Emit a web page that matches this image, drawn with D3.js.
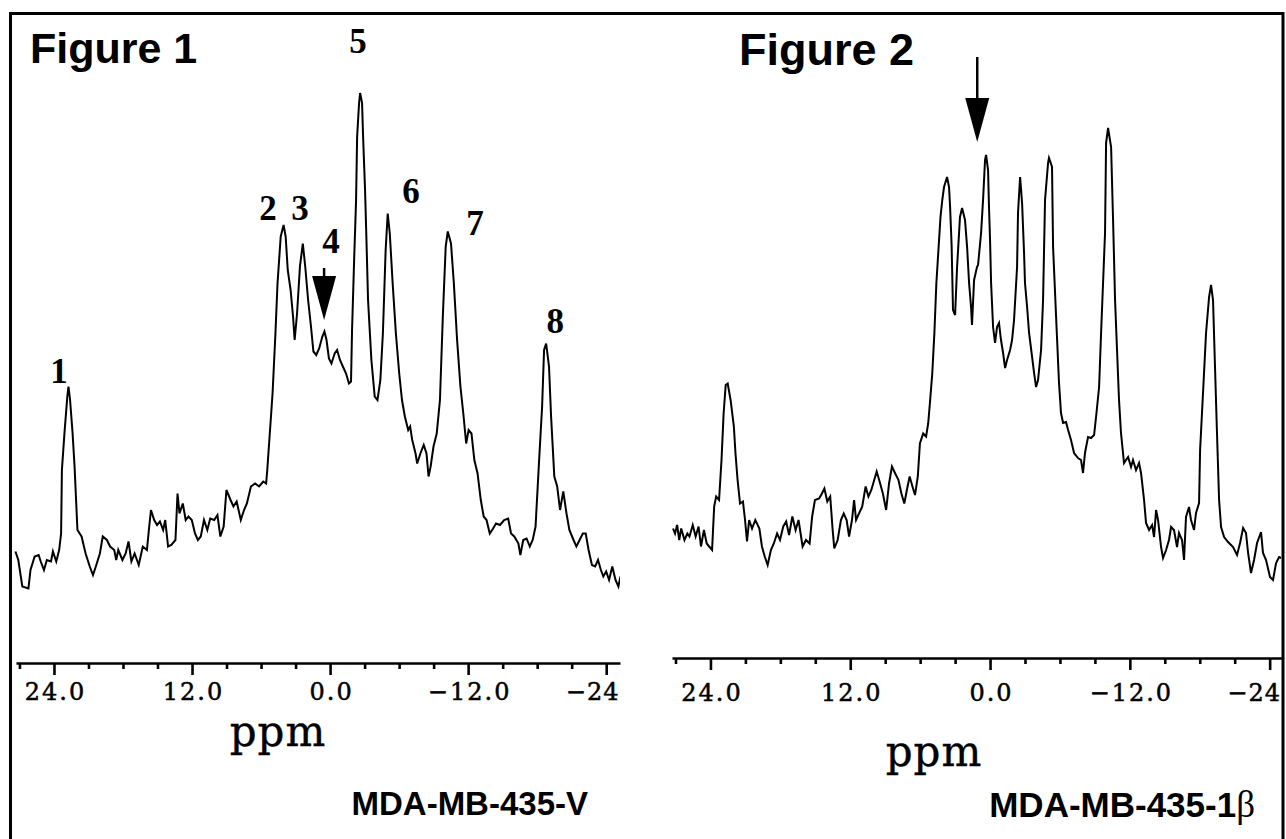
<!DOCTYPE html>
<html>
<head>
<meta charset="utf-8">
<script src="https://cdn.jsdelivr.net/npm/d3@7"></script>
<style>
  body { margin: 0; background: #fff; }
</style>
</head>
<body>
<div id="chart"></div>
<script>
// [ppm, intensity (a.u.)]
const spectrumV = [
  [27.35,13.7],[27.10,12.0],[26.75,6.7],[26.22,6.3],[26.04,10.0],[25.68,12.7],[25.33,13.0],[25.15,11.7],[24.87,10.0],[24.62,12.0],
  [24.26,11.7],[24.09,13.7],[23.80,11.7],[23.55,14.0],[23.38,17.3],[23.31,30.0],[23.09,37.3],[22.84,44.7],[22.74,46.7],[22.60,44.0],
  [22.38,37.3],[22.21,30.7],[21.96,18.0],[21.60,16.7],[21.25,13.3],[20.89,10.7],[20.61,9.0],[20.36,10.7],[20.01,13.3],[19.76,16.7],
  [19.40,16.0],[19.12,14.7],[18.76,14.0],[18.59,12.0],[18.41,14.0],[18.05,12.0],[17.77,13.3],[17.52,15.7],[17.27,11.7],[16.99,13.3],
  [16.63,11.0],[16.28,14.7],[15.92,14.0],[15.75,18.0],[15.57,22.0],[15.29,20.0],[15.04,19.0],[14.79,19.7],[14.51,18.0],[14.33,20.0],
  [14.08,14.7],[13.80,15.0],[13.44,16.0],[13.26,25.3],[13.09,21.3],[12.80,23.3],[12.55,20.0],[12.31,20.7],[12.02,20.0],[11.74,17.3],
  [11.49,16.0],[11.24,16.7],[10.96,20.0],[10.67,18.0],[10.42,20.3],[10.07,20.0],[9.79,21.0],[9.54,16.7],[9.25,18.7],[9.01,26.0],
  [8.65,24.0],[8.40,22.7],[8.12,23.7],[7.76,20.0],[7.48,22.0],[7.23,23.3],[6.88,26.7],[6.52,27.3],[6.17,26.7],[5.81,27.7],
  [5.56,27.3],[5.46,30.0],[5.28,36.0],[5.00,45.3],[4.75,57.3],[4.57,67.3],[4.29,76.7],[4.04,79.0],[3.86,76.7],[3.68,70.0],
  [3.43,66.0],[3.22,60.7],[3.08,56.0],[2.87,61.3],[2.62,70.7],[2.37,75.3],[2.16,70.7],[1.91,64.0],[1.66,58.7],[1.45,53.7],
  [1.20,53.0],[0.95,54.3],[0.67,56.7],[0.49,57.7],[0.31,56.0],[0.10,52.3],[-0.12,51.3],[-0.40,53.3],[-0.61,54.0],[-0.86,52.0],
  [-1.11,50.7],[-1.39,49.3],[-1.64,47.3],[-1.82,47.7],[-1.91,58.0],[-2.09,72.0],[-2.26,84.0],[-2.35,96.6],[-2.52,103.4],[-2.61,105.4],
  [-2.78,103.4],[-2.87,96.6],[-3.04,86.0],[-3.15,77.0],[-3.30,64.0],[-3.59,52.0],[-3.88,44.7],[-4.12,44.0],[-4.37,48.0],[-4.59,57.3],
  [-4.83,74.0],[-5.01,81.3],[-5.19,77.3],[-5.44,67.3],[-5.72,57.3],[-6.01,49.3],[-6.25,44.0],[-6.50,40.7],[-6.79,38.0],[-6.96,38.7],
  [-7.14,36.0],[-7.43,33.3],[-7.57,31.3],[-7.85,33.3],[-8.14,35.0],[-8.38,33.3],[-8.56,28.7],[-8.74,30.7],[-8.99,34.7],[-9.27,37.3],
  [-9.55,44.0],[-9.80,60.7],[-10.05,74.7],[-10.23,77.7],[-10.51,75.3],[-10.76,67.3],[-11.04,56.0],[-11.33,46.7],[-11.58,41.3],[-11.83,35.3],
  [-12.04,38.0],[-12.29,37.3],[-12.54,32.0],[-12.82,29.3],[-13.10,24.0],[-13.35,20.7],[-13.60,20.0],[-13.88,17.3],[-14.17,18.3],[-14.42,19.3],
  [-14.77,19.0],[-15.13,20.0],[-15.48,20.3],[-15.73,17.3],[-16.01,16.7],[-16.37,15.3],[-16.54,13.0],[-16.79,16.0],[-17.08,16.3],[-17.36,14.7],
  [-17.61,16.0],[-17.86,18.7],[-18.14,30.7],[-18.43,42.7],[-18.60,54.0],[-18.78,55.3],[-19.03,50.7],[-19.21,40.7],[-19.49,28.7],[-19.74,26.7],
  [-19.99,22.0],[-20.27,25.7],[-20.55,21.3],[-20.80,18.0],[-21.16,16.0],[-21.41,14.7],[-21.69,16.0],[-21.97,17.3],[-22.22,17.3],[-22.47,14.0],
  [-22.76,11.0],[-23.04,10.7],[-23.29,12.0],[-23.54,10.0],[-23.75,8.7],[-24.00,9.7],[-24.25,8.0],[-24.53,10.7],[-24.81,8.0],[-25.06,6.7],
  [-25.24,8.7]
];

const spectrum1b = [
  [27.21,18.3],[27.04,17.3],[26.86,19.0],[26.68,16.0],[26.51,18.3],[26.23,16.0],[25.98,17.3],[25.80,16.7],[25.52,19.0],[25.27,16.7],
  [25.02,18.7],[24.81,14.7],[24.56,18.0],[24.32,15.3],[24.11,14.7],[23.86,14.0],[23.68,22.7],[23.51,24.7],[23.26,24.0],[23.05,32.0],
  [22.87,41.3],[22.69,47.0],[22.52,47.3],[22.27,44.0],[21.99,38.7],[21.85,33.3],[21.67,28.0],[21.46,23.3],[21.21,23.7],[21.03,20.0],
  [20.86,15.7],[20.68,20.0],[20.43,18.3],[20.15,20.0],[19.80,18.3],[19.58,14.7],[19.34,12.7],[19.09,11.0],[18.81,14.0],[18.56,15.3],
  [18.28,17.3],[18.03,16.0],[17.75,18.7],[17.50,19.7],[17.25,17.0],[16.97,20.7],[16.69,18.0],[16.44,20.0],[16.09,14.7],[15.80,16.0],
  [15.49,15.3],[15.27,20.7],[15.03,24.0],[14.67,24.3],[14.43,25.3],[14.22,26.3],[13.97,23.7],[13.72,24.7],[13.51,18.0],[13.37,14.3],
  [13.08,16.0],[12.80,20.0],[12.56,21.3],[12.31,20.0],[12.10,16.7],[11.85,20.0],[11.67,24.0],[11.50,20.0],[11.25,21.3],[10.97,22.7],
  [10.68,26.7],[10.44,24.7],[10.19,26.0],[9.98,27.7],[9.73,29.7],[9.48,27.7],[9.20,25.3],[8.92,22.0],[8.67,27.3],[8.42,30.7],
  [8.14,29.3],[7.86,28.0],[7.61,25.3],[7.36,23.3],[7.08,26.7],[6.90,28.7],[6.66,26.7],[6.44,25.0],[6.20,28.7],[6.02,35.3],
  [5.74,37.3],[5.49,36.7],[5.31,39.3],[5.14,44.0],[4.96,49.3],[4.78,57.3],[4.61,67.3],[4.43,74.0],[4.25,80.7],[4.10,84.0],
  [3.95,86.6],[3.69,88.6],[3.52,86.6],[3.43,82.6],[3.30,75.0],[3.18,62.0],[3.00,61.0],[2.83,70.6],[2.66,77.4],[2.58,80.6],
  [2.40,82.4],[2.15,80.0],[1.97,74.6],[1.80,67.4],[1.63,62.6],[1.55,59.0],[1.37,68.0],[1.12,70.6],[1.03,71.0],[0.77,77.4],
  [0.60,84.0],[0.43,92.0],[0.34,93.0],[0.17,90.0],[0.09,82.6],[0.00,76.0],[-0.09,67.4],[-0.26,58.6],[-0.43,55.4],[-0.60,58.6],
  [-0.77,59.4],[-0.94,56.0],[-1.12,53.4],[-1.29,50.4],[-1.46,52.0],[-1.72,54.0],[-1.89,56.0],[-2.06,60.0],[-2.32,70.6],[-2.40,81.4],
  [-2.58,88.6],[-2.75,83.4],[-2.92,73.4],[-3.00,67.4],[-3.18,62.6],[-3.35,57.4],[-3.61,52.6],[-3.78,49.4],[-3.95,46.6],[-4.12,48.0],
  [-4.38,54.0],[-4.55,64.0],[-4.72,84.0],[-4.98,91.4],[-5.06,92.4],[-5.32,90.6],[-5.41,74.6],[-5.67,60.6],[-5.92,47.4],[-6.09,41.4],
  [-6.27,39.4],[-6.52,39.6],[-6.70,38.0],[-6.95,36.0],[-7.21,33.4],[-7.55,32.4],[-7.81,32.0],[-7.98,29.4],[-8.15,33.4],[-8.41,36.6],
  [-8.67,36.4],[-8.93,37.0],[-9.10,40.6],[-9.36,46.6],[-9.53,57.4],[-9.70,67.4],[-9.87,77.4],[-9.96,95.4],[-10.13,98.4],[-10.39,94.6],
  [-10.56,80.0],[-10.73,64.0],[-10.90,54.0],[-11.07,44.0],[-11.24,37.4],[-11.50,31.4],[-11.67,32.0],[-11.85,32.6],[-12.10,30.6],[-12.27,32.0],
  [-12.53,30.0],[-12.79,31.4],[-12.96,29.4],[-13.22,24.0],[-13.39,19.4],[-13.65,18.0],[-13.91,19.0],[-14.08,16.6],[-14.25,22.0],[-14.42,20.0],
  [-14.68,14.6],[-14.85,12.4],[-15.11,14.0],[-15.36,16.0],[-15.54,18.6],[-15.79,18.0],[-16.05,14.6],[-16.22,17.4],[-16.48,16.0],[-16.65,12.0],
  [-16.82,20.6],[-17.08,22.6],[-17.25,20.0],[-17.51,18.0],[-17.68,21.4],[-17.94,23.4],[-18.03,34.0],[-18.28,45.4],[-18.54,57.4],[-18.80,64.6],
  [-18.97,67.0],[-19.14,64.0],[-19.31,50.6],[-19.48,37.4],[-19.66,24.0],[-19.83,18.6],[-20.09,16.6],[-20.43,15.6],[-20.86,14.6],[-21.20,13.0],
  [-21.46,15.4],[-21.72,18.4],[-21.97,17.4],[-22.15,13.4],[-22.40,9.4],[-22.66,12.0],[-22.92,15.4],[-23.26,17.6],[-23.43,13.4],[-23.69,12.0],
  [-24.03,8.6],[-24.29,8.0],[-24.55,11.4],[-24.81,12.6],[-24.98,12.4]
];

// numbered peaks of figure 1 (label, ppm, intensity of the label baseline)
const peakLabels = [
  ["1", 23.57, 47.4], ["2", 5.39, 80.0], ["3", 2.61, 80.0], ["4", -0.09, 73.4],
  ["5", -2.43, 113.4], ["6", -7.04, 83.4], ["7", -12.6, 77.0], ["8", -19.57, 57.4]
];

// arrows: ppm and intensity at the tip
const arrowV = [0.52, 60.0];
const arrow1b = [1.1, 95.6];

const majorTicks = [24, 12, 0, -12, -24];
const majorLabels = ["24.0", "12.0", "0.0", "\u221212.0", "\u221224"];
const minorTicks = [27, 21, 18, 15, 9, 6, 3, -3, -6, -9, -15, -18, -21];

const width = 1286;
const height = 839;

const svg = d3.select("#chart").append("svg")
  .attr("width", width)
  .attr("height", height)
  .style("background", "#fff");

const y = d3.scaleLinear().domain([0, 100]).range([620, 120]);

const panels = [
  { title: "Figure 1", titleX: 30, titleY: 63, titleSize: 43,
    sample: "MDA-MB-435-V", sampleX: 588, sampleY: 815, sampleSize: 33,
    data: spectrumV, domain: [27.3, -25.2], range: [16, 620], axisY: 663, labelY: 37,
    ppmX: 278, ppmY: 746, clipX: [12, 620], arrow: arrowV, shaft: 52, labels: peakLabels },
  { title: "Figure 2", titleX: 739, titleY: 65, titleSize: 45,
    sample: "MDA-MB-435-1", beta: true, sampleX: 1255, sampleY: 817, sampleSize: 35,
    data: spectrum1b, domain: [27.3, -25.06], range: [672, 1282], axisY: 658, labelY: 43,
    ppmX: 934, ppmY: 766, clipX: [660, 1281.5], arrow: arrow1b, shaft: 85, labels: [] }
];

panels.forEach(function(p, i) {
  const x = d3.scaleLinear().domain(p.domain).range(p.range);

  svg.append("clipPath").attr("id", "clip" + i)
    .append("rect")
      .attr("x", p.clipX[0]).attr("y", 0)
      .attr("width", p.clipX[1] - p.clipX[0]).attr("height", height);

  const g = svg.append("g").attr("clip-path", "url(#clip" + i + ")");

  // spectrum trace
  const line = d3.line()
    .x(d => x(d[0]))
    .y(d => y(d[1]));

  g.append("path")
    .datum(p.data)
    .attr("d", line)
    .attr("fill", "none")
    .attr("stroke", "#000")
    .attr("stroke-width", 2)
    .attr("stroke-linejoin", "miter");

  // axis: major ticks with labels, minor ticks without
  const major = d3.axisBottom(x)
    .tickValues(majorTicks)
    .tickSize(12)
    .tickSizeOuter(0)
    .tickFormat((d, k) => majorLabels[k]);

  const minor = d3.axisBottom(x)
    .tickValues(minorTicks)
    .tickSize(6)
    .tickSizeOuter(0)
    .tickFormat("");

  const ax = svg.append("g")
    .attr("transform", "translate(0," + p.axisY + ")")
    .call(major);
  g.append("g")
    .attr("transform", "translate(0," + p.axisY + ")")
    .call(minor)
    .select(".domain").remove();

  ax.selectAll(".tick line, .domain")
    .attr("stroke", "#000")
    .attr("stroke-width", 2.6);
  g.selectAll(".tick line")
    .attr("stroke", "#000")
    .attr("stroke-width", 2.6);

  ax.selectAll(".tick text")
    .attr("y", p.labelY)
    .attr("dy", 0)
    .attr("dx", 1)
    .style("font-family", "'DejaVu Serif', serif")
    .style("font-size", "24px")
    .style("letter-spacing", "2px")
    .attr("fill", "#000")
    .attr("stroke", "#000")
    .attr("stroke-width", 0.5);

  // the last label runs into the panel edge: keep what shows, flush with it
  ax.selectAll(".tick text").filter(d => d === -24)
    .attr("text-anchor", "end")
    .attr("dx", 0)
    .style("letter-spacing", "1px")
    .attr("x", p.clipX[1] - 1 - x(-24));

  // axis title
  g.append("text")
    .attr("x", p.ppmX)
    .attr("y", p.ppmY)
    .attr("text-anchor", "middle")
    .style("font-family", "'DejaVu Serif', serif")
    .style("font-size", "42px")
    .style("letter-spacing", "1px")
    .attr("stroke", "#000")
    .attr("stroke-width", 0.4)
    .text("ppm");

  // figure title and sample name
  svg.append("text")
    .attr("x", p.titleX)
    .attr("y", p.titleY)
    .style("font-family", "'Liberation Sans', Arial, sans-serif")
    .style("font-weight", "bold")
    .style("font-size", p.titleSize + "px")
    .text(p.title);

  const s = svg.append("text")
    .attr("x", p.sampleX)
    .attr("y", p.sampleY)
    .attr("text-anchor", "end")
    .style("font-family", "'Liberation Sans', Arial, sans-serif")
    .style("font-weight", "bold")
    .style("font-size", p.sampleSize + "px")
    .text(p.sample);
  if (p.beta) {
    s.append("tspan")
      .style("font-family", "'Liberation Serif', 'Times New Roman', serif")
      .style("font-weight", "normal")
      .style("font-size", (p.sampleSize + 2) + "px")
      .text("\u03B2");
  }

  // arrow pointing at the marked peak
  const ax0 = x(p.arrow[0]);
  const tip = y(p.arrow[1]);
  g.append("line")
    .attr("x1", ax0).attr("x2", ax0)
    .attr("y1", tip - p.shaft).attr("y2", tip - 40)
    .attr("stroke", "#000")
    .attr("stroke-width", 2.5);
  g.append("path")
    .attr("d", `M${ax0 - 12},${tip - 44} L${ax0 + 12},${tip - 44} L${ax0},${tip} Z`)
    .attr("fill", "#000");

  // peak numbers
  g.selectAll(".peaklabel")
    .data(p.labels)
    .enter().append("text")
    .attr("class", "peaklabel")
    .attr("x", d => x(d[1]))
    .attr("y", d => y(d[2]))
    .attr("text-anchor", "middle")
    .style("font-family", "'Liberation Serif', 'Times New Roman', serif")
    .style("font-weight", "bold")
    .style("font-size", "35px")
    .text(d => d[0]);
});

// frame
svg.append("path")
  .attr("d", "M10.5,839 V13.5 H1283 V839")
  .attr("fill", "none")
  .attr("stroke", "#000")
  .attr("stroke-width", 3);
</script>
</body>
</html>
